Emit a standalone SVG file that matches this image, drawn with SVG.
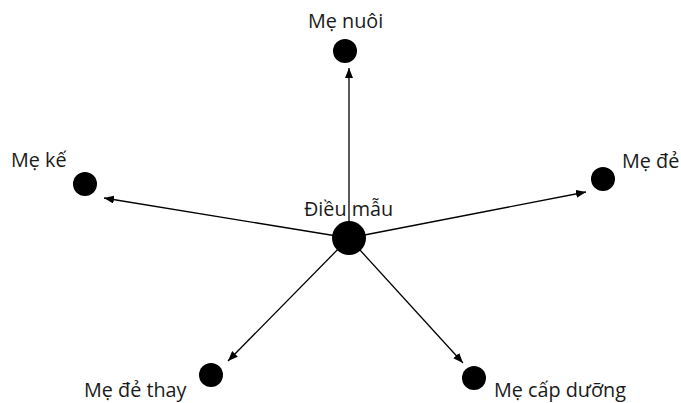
<svg xmlns="http://www.w3.org/2000/svg" width="681" height="403" viewBox="0 0 681 403">
<defs>
<style>
.lbl{font-family:"Open Sans","Noto Sans",sans-serif;font-size:19.8px;fill:#1a1a1a}
.dot{fill:#000}
.edge{stroke:#000;stroke-width:1.3;fill:none;marker-end:url(#ah)}
</style>
<marker id="ah" viewBox="0 0 10 8" refX="10" refY="4" markerWidth="10" markerHeight="8" markerUnits="userSpaceOnUse" orient="auto">
<path d="M0,0 L10,4 L0,8 Z" fill="#000"/>
</marker>
</defs>
<rect width="681" height="403" fill="#fff"/>
<g id="connectors">
<line class="edge" x1="349" y1="238" x2="349" y2="68"/>
<line class="edge" x1="349" y1="238" x2="104" y2="198"/>
<line class="edge" x1="349" y1="238" x2="586" y2="192"/>
<line class="edge" x1="349" y1="238" x2="228" y2="361"/>
<line class="edge" x1="349" y1="238" x2="463" y2="363"/>
</g>
<g id="center">
<circle class="dot" cx="349" cy="238" r="17"/>
<text class="lbl" x="304" y="216">Điều mẫu</text>
</g>
<g id="me-nuoi">
<circle class="dot" cx="345" cy="51" r="12"/>
<text class="lbl" x="308" y="28">Mẹ nuôi</text>
</g>
<g id="me-ke">
<circle class="dot" cx="85" cy="184" r="12"/>
<text class="lbl" x="11" y="167">Mẹ kế</text>
</g>
<g id="me-de">
<circle class="dot" cx="603" cy="179" r="12"/>
<text class="lbl" x="622" y="168">Mẹ đẻ</text>
</g>
<g id="me-de-thay">
<circle class="dot" cx="211" cy="375" r="12"/>
<text class="lbl" x="84" y="397">Mẹ đẻ thay</text>
</g>
<g id="me-cap-duong">
<circle class="dot" cx="474" cy="378" r="12"/>
<text class="lbl" x="494" y="397">Mẹ cấp dưỡng</text>
</g>
</svg>
